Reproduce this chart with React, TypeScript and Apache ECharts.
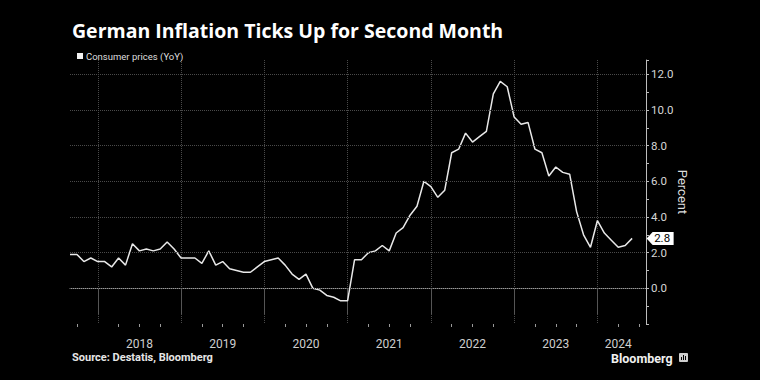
import React, { useEffect, useRef } from 'react';
import * as echarts from 'echarts';

// German HICP, % YoY (monthly, Aug 2017 – May 2024)
const infl2017 = [1.9, 1.9, 1.5, 1.7, 1.5]; // Aug–Dec
const infl2018 = [1.5, 1.2, 1.7, 1.3, 2.5, 2.1, 2.2, 2.1, 2.2, 2.6, 2.2, 1.7];
const infl2019 = [1.7, 1.7, 1.4, 2.1, 1.3, 1.5, 1.1, 1.0, 0.9, 0.9, 1.2, 1.5];
const infl2020 = [1.6, 1.7, 1.3, 0.8, 0.5, 0.8, 0.0, -0.1, -0.4, -0.5, -0.7, -0.7];
const infl2021 = [1.6, 1.6, 2.0, 2.1, 2.4, 2.1, 3.1, 3.4, 4.1, 4.6, 6.0, 5.7];
const infl2022 = [5.1, 5.5, 7.6, 7.8, 8.7, 8.2, 8.5, 8.8, 10.9, 11.6, 11.3, 9.6];
const infl2023 = [9.2, 9.3, 7.8, 7.6, 6.3, 6.8, 6.5, 6.4, 4.3, 3.0, 2.3, 3.8];
const infl2024 = [3.1, 2.7, 2.3, 2.4, 2.8]; // Jan–May

const seriesName = 'Consumer prices (YoY)';
const yGridValues = [0, 2, 4, 6, 8, 10, 12];
const yearLabelMonths = ['2018-06', '2019-06', '2020-06', '2021-06', '2022-06', '2023-06', '2024-03'];
const quarterEndMonths = ['03', '06', '09'];

// month categories Aug 2017 .. Jul 2024 (each point plotted at month end)
const months: string[] = [];
for (let i = 0; i < 84; i++) {
  const m = 7 + i; // 0-based month offset from Jan 2017
  const y = 2017 + Math.floor(m / 12);
  const mm = (m % 12) + 1;
  months.push(`${y}-${mm < 10 ? '0' + mm : mm}`);
}

const values = [
  ...infl2017, ...infl2018, ...infl2019, ...infl2020,
  ...infl2021, ...infl2022, ...infl2023, ...infl2024,
];
const lastIndex = values.length - 1;
const lastValue = values[lastIndex];

const isYearEnd = (_i: number, v: string) => v.endsWith('-12');

export default function App() {
  const ref = useRef<HTMLDivElement>(null);
  useEffect(() => {
    const chart = echarts.init(ref.current!, null, { renderer: 'svg' });
    const option: any = {
      animation: false,
      backgroundColor: '#000',
      title: {
        text: 'German Inflation Ticks Up for Second Month',
        left: 67,
        top: 15,
        textStyle: { color: '#fff', fontSize: 19.5, fontWeight: 'bold', fontFamily: 'Open Sans' },
      },
      legend: {
        data: [seriesName],
        left: 72,
        top: 46,
        icon: 'rect',
        itemWidth: 6,
        itemHeight: 6,
        textStyle: { color: '#ddd', fontSize: 9.5, fontFamily: 'Roboto', padding: [0, 0, 0, -2] },
      },
      grid: { left: 70, right: 114, top: 60, bottom: 56, containLabel: false, outerBoundsMode: 'none' },
      xAxis: [
        {
          type: 'category',
          data: months,
          boundaryGap: false,
          position: 'bottom',
          axisLine: { show: true, lineStyle: { color: '#9a9a9a', width: 1 } },
          axisTick: { show: true, length: 26, interval: isYearEnd, lineStyle: { color: '#555', width: 1 } },
          axisLabel: {
            show: true,
            interval: (_i: number, v: string) => yearLabelMonths.includes(v),
            formatter: (v: string) => v.slice(0, 4),
            color: '#cfcfcf',
            fontSize: 12,
            fontFamily: 'Roboto',
            margin: 14,
          },
          splitLine: { show: true, interval: isYearEnd, lineStyle: { color: '#4a4a4a', type: 'dotted', width: 1 } },
        },
        {
          type: 'category',
          data: months,
          boundaryGap: false,
          position: 'bottom',
          axisLine: { show: false },
          axisTick: {
            show: true,
            length: 3,
            interval: (_i: number, v: string) => quarterEndMonths.includes(v.slice(5)),
            lineStyle: { color: '#9a9a9a', width: 1 },
          },
          axisLabel: { show: false },
          splitLine: { show: false },
        },
      ],
      yAxis: {
        type: 'value',
        position: 'right',
        min: -2,
        max: 12.8,
        interval: 2,
        name: 'Percent',
        nameLocation: 'middle',
        nameRotate: -90,
        nameGap: 30,
        nameMoveOverlap: false,
        nameTextStyle: { color: '#ddd', fontSize: 13, fontFamily: 'Roboto' },
        axisLine: { show: true, lineStyle: { color: '#bdbdbd', width: 1 } },
        axisTick: { show: true, length: 3, lineStyle: { color: '#bdbdbd' } },
        minorTick: { show: true, splitNumber: 2, length: 3, lineStyle: { color: '#bdbdbd' } },
        axisLabel: {
          color: '#d6d6d6',
          fontSize: 11.5,
          fontFamily: 'Roboto',
          margin: 5,
          formatter: (v: number) => (v >= 0 && v <= 12 ? v.toFixed(1) : ''),
        },
        splitLine: { show: false },
      },
      series: [
        {
          name: seriesName,
          type: 'line',
          data: values,
          showSymbol: false,
          symbol: 'none',
          lineStyle: { color: '#e8e8e8', width: 1.5 },
          itemStyle: { color: '#f2f2f2' },
          markLine: {
            silent: true,
            symbol: 'none',
            label: { show: false },
            lineStyle: { color: '#4a4a4a', type: 'dotted', width: 1 },
            data: yGridValues.map((v) => ({ yAxis: v })),
          },
          markPoint: {
            symbol: 'path://M0,6.5L6,0L27,0L27,13L6,13Z',
            symbolSize: [27, 13],
            symbolKeepAspect: false,
            symbolOffset: [28, 0],
            itemStyle: { color: '#fff' },
            label: {
              show: true,
              position: 'inside',
              color: '#000',
              fontSize: 11.5,
              fontFamily: 'Roboto',
              offset: [2, 0],
              formatter: (p: any) => Number(p.value).toFixed(1),
            },
            data: [{ coord: [months[lastIndex], lastValue], value: lastValue }],
          },
        },
      ],
      graphic: [
        {
          type: 'text',
          left: 72,
          top: 352,
          style: { text: 'Source: Destatis, Bloomberg', fill: '#e6e6e6', font: 'bold 11px Roboto' },
        },
        {
          type: 'text',
          left: 611,
          top: 352,
          style: { text: 'Bloomberg', fill: '#f0f0f0', font: 'bold 12.5px Roboto' },
        },
        {
          type: 'group',
          left: 679,
          top: 353,
          children: [
            { type: 'rect', shape: { x: 0, y: 0, width: 9, height: 9, r: 1 }, style: { fill: '#cfcfcf' } },
            { type: 'rect', shape: { x: 2, y: 4, width: 1, height: 3 }, style: { fill: '#000' } },
            { type: 'rect', shape: { x: 4, y: 2, width: 1, height: 5 }, style: { fill: '#000' } },
            { type: 'rect', shape: { x: 6, y: 3, width: 1, height: 4 }, style: { fill: '#000' } },
          ],
        },
      ],
    };
    chart.setOption(option);
    return () => chart.dispose();
  }, []);
  return (
    <div
      ref={ref}
      style={{ position: 'absolute', left: 0, top: 0, width: 760, height: 380, background: '#000' }}
    />
  );
}
